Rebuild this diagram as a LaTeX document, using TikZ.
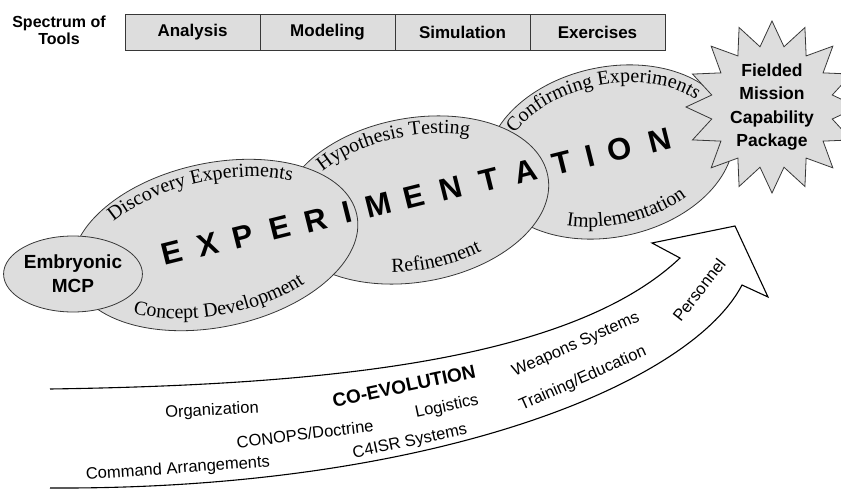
\documentclass[tikz,border=0pt]{standalone}
\usepackage{fontspec}
\setmainfont{Liberation Serif}
\setsansfont{Liberation Sans}
\usetikzlibrary{shapes.geometric}
\usetikzlibrary{positioning}
\usetikzlibrary{decorations.text}

\definecolor{phasefill}{RGB}{221,221,221}
\definecolor{phaseline}{RGB}{55,55,55}

\newcommand{\curvefont}{\fontsize{20}{22}\selectfont\rmfamily}

\begin{document}
\begin{tikzpicture}[x=1pt,y=1pt,
   toolcell/.style={draw=phaseline, fill=phasefill, line width=0.9pt,
      minimum width=135pt, minimum height=36pt, inner sep=0pt, outer sep=0pt,
      font=\sffamily\bfseries\fontsize{17}{19}\selectfont},
   phase/.style={ellipse, draw=phaseline, fill=phasefill, line width=0.8pt, inner sep=0pt},
   bigletter/.style={font=\sffamily\bfseries\fontsize{31}{31}\selectfont, rotate=14, inner sep=0pt},
   curvelabel/.style={decorate, decoration={text along path, text={|\curvefont|#1}, text align=center}},
   bandtext/.style={font=\sffamily\fontsize{16.5}{18}\selectfont, inner sep=0pt},
   coevo/.style={draw=black, line width=1.1pt, line join=miter}]

   \useasboundingbox (0,0) rectangle (841,491);

   % tools
   \node[font=\sffamily\bfseries\fontsize{16}{17}\selectfont, align=center] (spectrum) at (59,461) {Spectrum of\\Tools};
   \node[toolcell] (analysis) at (192.5,459) {Analysis};
   \node[toolcell, right=0pt of analysis] (modeling) {Modeling};
   \node[toolcell, right=0pt of modeling] (simulation) {Simulation};
   \node[toolcell, right=0pt of simulation] (exercises) {Exercises};

   % phases
   \node[phase, minimum width=250pt, minimum height=170pt, rotate=12] (confirm) at (610,339) {};
   \node[star, star points=16, star point ratio=1.4, minimum size=160pt, draw=phaseline, fill=phasefill,
      line width=0.8pt, inner sep=0pt, align=center,
      font=\sffamily\bfseries\fontsize{17.5}{23.5}\selectfont] (fmcp) at (772,384)
      {Fielded\\Mission\\Capability\\Package};
   \node[phase, minimum width=270pt, minimum height=164pt, rotate=10] (hypo) at (415,291) {};
   \node[phase, minimum width=290pt, minimum height=164pt, rotate=12] (disco) at (215,246) {};
   \node[phase, minimum width=118pt, minimum height=76pt, align=center,
      font=\sffamily\bfseries\fontsize{19}{24}\selectfont] (mcp) at (73,217) {Embryonic\\MCP};

   % labels on the phases
   \begin{scope}[shift={(disco.center)}, rotate=12]
      \path[curvelabel={Discovery Experiments}] (160:129 and 64) arc[start angle=160, end angle=25, x radius=129, y radius=64];
      \path[curvelabel={Concept Development}] (205:133 and 70) arc[start angle=205, end angle=325, x radius=133, y radius=70];
   \end{scope}
   \begin{scope}[shift={(hypo.center)}, rotate=10]
      \path[curvelabel={Hypothesis Testing}] (160:119 and 64) arc[start angle=160, end angle=37, x radius=119, y radius=64];
      \path[curvelabel={Refinement}] (236:123 and 70) arc[start angle=236, end angle=316, x radius=123, y radius=70];
   \end{scope}
   \begin{scope}[shift={(confirm.center)}, rotate=12]
      \path[curvelabel={Confirming Experiments}] (160:109 and 67) arc[start angle=160, end angle=14, x radius=109, y radius=67];
      \path[curvelabel={Implementation}] (225:113 and 73) arc[start angle=225, end angle=320, x radius=113, y radius=73];
   \end{scope}

   % experimentation
   \foreach \ch/\x/\y [count=\i] in {E/172/238, X/208/246, P/243/254, E/280/263, R/316/271, I/347/278.5,
      M/378/286, E/414/294, N/451/303, T/489/311, A/526/320, T/562/328, I/590/335, O/620/342, N/660/351}
      \node[bigletter] (ltr\i) at (\x,\y) {\ch};

   % co-evolution arrow
   \coordinate (upleft) at (50,102);
   \coordinate (lowleft) at (50,3);
   \coordinate (barbin) at (680,233);
   \coordinate (barbout) at (652,248);
   \coordinate (tip) at (735,265);
   \coordinate (barbout2) at (768,194);
   \coordinate (barbin2) at (742,206);
   \draw[coevo] (upleft) .. controls (320,106) and (570,129) .. (barbin) -- (barbout) -- (tip)
      -- (barbout2) -- (barbin2) .. controls (690,106) and (430,1) .. (lowleft);

   \node[bandtext, font=\sffamily\bfseries\fontsize{19}{20}\selectfont, rotate=12] (coev) at (404,105) {CO-EVOLUTION};
   \node[bandtext, rotate=3] (organ) at (212,80) {Organization};
   \node[bandtext, rotate=24] (weapons) at (576,146) {Weapons Systems};
   \node[bandtext, rotate=52] (personnel) at (699,201) {Personnel};
   \node[bandtext, rotate=12] (logistics) at (447,84) {Logistics};
   \node[bandtext, rotate=24] (training) at (583,112) {Training/Education};
   \node[bandtext, rotate=7] (conops) at (305,57) {CONOPS/Doctrine};
   \node[bandtext, rotate=12] (c4isr) at (410,49) {C4ISR Systems};
   \node[bandtext, rotate=4] (command) at (178,22) {Command Arrangements};
\end{tikzpicture}
\end{document}
